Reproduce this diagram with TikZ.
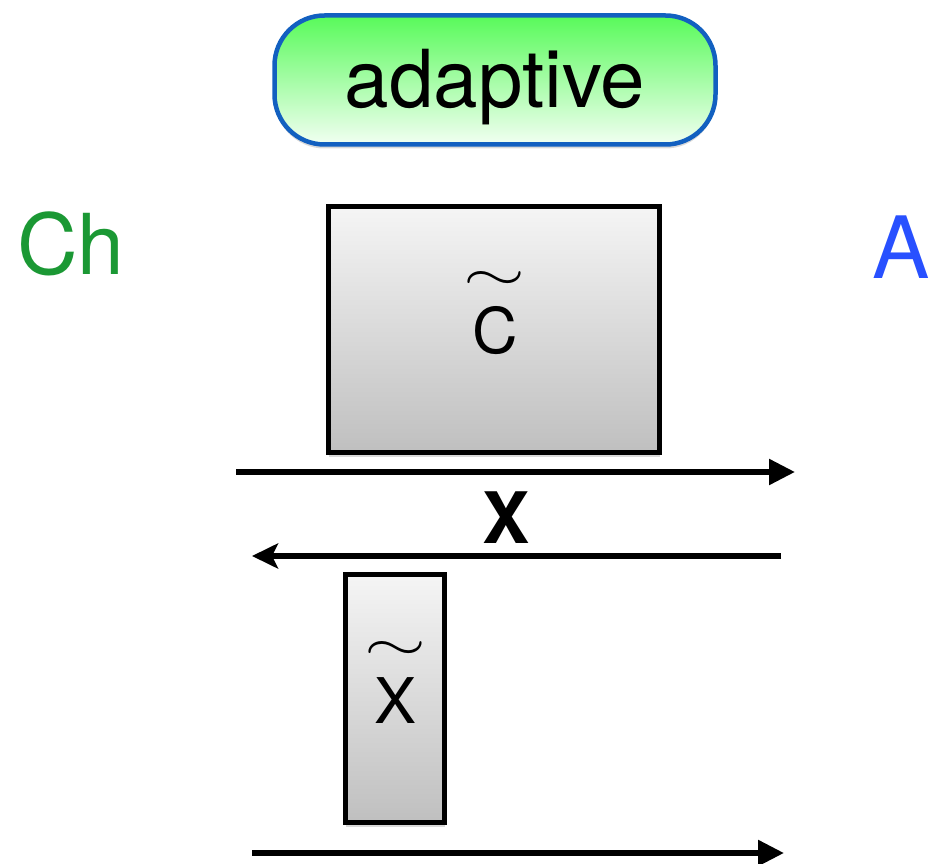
\documentclass[tikz,border=0pt]{standalone}
\usepackage{graphicx}
\usepackage{fontspec}
\setmainfont{TeX Gyre Heros}
\usetikzlibrary{arrows.meta,shadows}

\definecolor{pillblue}{RGB}{18,96,192}
\definecolor{pilltop}{RGB}{88,250,90}
\definecolor{pillbot}{RGB}{242,255,242}
\definecolor{chgreen}{RGB}{27,152,52}
\definecolor{ablue}{RGB}{40,80,255}

\newcommand{\wtilde}{\resizebox{62pt}{19pt}{$\sim$}}

\begin{document}
\begin{tikzpicture}[x=1pt,y=-1pt,
  graybox/.style={draw=black, line width=5.5pt, top color=black!4, bottom color=black!25,
    drop shadow={shadow xshift=0pt, shadow yshift=-4pt, opacity=0.3}},
  tildelbl/.style={anchor=south, inner sep=0pt, align=center, font=\fontsize{63}{63}\selectfont},
  fwd/.style={line width=5.5pt, -{Triangle[length=26pt,width=25pt]}},
  bwd/.style={line width=5.5pt, -{Stealth[length=26pt,width=25pt,inset=6pt]}}]
\useasboundingbox (0,0) rectangle (943,864);

% top label
\node[draw=pillblue, line width=4.5pt, rounded corners=50pt, top color=pilltop, bottom color=pillbot,
  minimum width=441pt, minimum height=129pt, text depth=3pt, font=\fontsize{80}{80}\selectfont,
  drop shadow={shadow xshift=0pt, shadow yshift=-4pt, opacity=0.3}] (adapt) at (495,80) {adaptive};

% the two sides
\node[anchor=base, text=chgreen, font=\fontsize{84}{84}\selectfont] (ch) at (71,274) {Ch};
\node[anchor=base, text=ablue, font=\fontsize{86}{86}\selectfont] (adv) at (901,278) {A};

% boxes
\node[graybox, minimum width=331pt, minimum height=246pt] (cbox) at (494,329.5) {};
\node[tildelbl] (clbl) at (495,355) {\wtilde\\[0pt]C};
\node[graybox, minimum width=99pt, minimum height=248pt] (xbox) at (395,698.5) {};
\node[tildelbl] (xlbl) at (396,724) {\wtilde\\[0pt]X};

% messages
\coordinate (q0) at (236,472);
\coordinate (q1) at (795,472);
\coordinate (r0) at (781,556);
\coordinate (r1) at (252,556);
\coordinate (s0) at (252,853);
\coordinate (s1) at (784,853);
\draw[fwd] (q0) -- (q1);
\node[anchor=base, font=\fontsize{71}{71}\selectfont\bfseries] (xmsg) at (506,543) {X};
\draw[bwd] (r0) -- (r1);
\draw[fwd] (s0) -- (s1);
\end{tikzpicture}
\end{document}
